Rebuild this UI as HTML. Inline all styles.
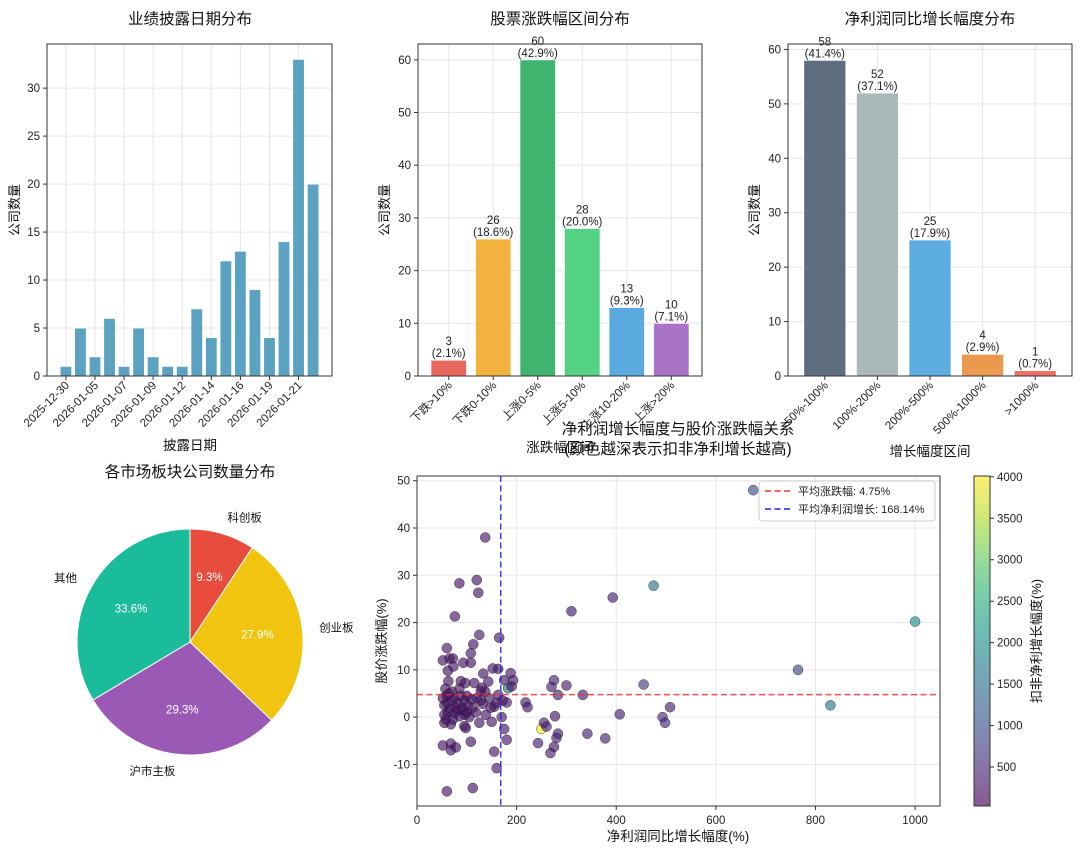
<!DOCTYPE html>
<html><head><meta charset="utf-8"><style>
body{margin:0;background:#fff;}
svg{display:block;font-family:"Liberation Sans","Noto Sans CJK SC",sans-serif;}
</style></head><body>
<svg id="s" width="1080" height="852" viewBox="0 0 1080 852">
<defs>
<linearGradient id="vir" x1="0" y1="1" x2="0" y2="0">
<stop offset="0" stop-color="#440154"/><stop offset="0.11" stop-color="#482878"/><stop offset="0.22" stop-color="#3e4989"/><stop offset="0.33" stop-color="#31688e"/><stop offset="0.44" stop-color="#26828e"/><stop offset="0.55" stop-color="#1f9e89"/><stop offset="0.66" stop-color="#35b779"/><stop offset="0.77" stop-color="#6ece58"/><stop offset="0.88" stop-color="#b5de2b"/><stop offset="1" stop-color="#fde725"/>
</linearGradient></defs>
</svg>
<script>
// ---- chart 1 data ----
const dateCats=["2025-12-30","2026-01-04","2026-01-05","2026-01-06","2026-01-07","2026-01-08","2026-01-09","2026-01-10","2026-01-12","2026-01-13","2026-01-14","2026-01-15","2026-01-16","2026-01-17","2026-01-19","2026-01-20","2026-01-21","2026-01-22"];
const dateCounts=[1,5,2,6,1,5,2,1,1,7,4,12,13,9,4,14,33,20];
const dateTicks=[0,5,10,15,20,25,30];
// ---- chart 2 data ----
const chgCats=["下跌>10%","下跌0-10%","上涨0-5%","上涨5-10%","上涨10-20%","上涨>20%"];
const chgCounts=[3,26,60,28,13,10];
const chgPcts=["2.1%","18.6%","42.9%","20.0%","9.3%","7.1%"];
const chgColors=["#e8695b","#f1b23e","#3fb46f","#52d282","#5aaae0","#a974c5"];
const chgTicks=[0,10,20,30,40,50,60];
// ---- chart 3 data ----
const grCats=["50%-100%","100%-200%","200%-500%","500%-1000%",">1000%"];
const grCounts=[58,52,25,4,1];
const grPcts=["41.4%","37.1%","17.9%","2.9%","0.7%"];
const grColors=["#5e6e7e","#abb8b8","#5eade2","#eb994f","#ec7064"];
const grTicks=[0,10,20,30,40,50,60];
// ---- pie data ----
const pieLabels=["科创板","创业板","沪市主板","其他"];
const pieValues=[9.3,27.9,29.3,33.6];
const pieColors=["#e74c3c","#f1c40f","#9b59b6","#1abc9c"];
// ---- scatter data ----
const scGrowth=[675,137,85,120,123,475,393,310,1000,76,125,165,60,113,108,52,65,72,93,108,73,152,163,62,133,188,193,175,63,88,97,115,275,300,455,765,270,183,57,130,70,137,163,283,333,100,60,75,120,145,180,218,222,508,830,132,155,55,65,80,90,100,112,118,138,170,277,407,493,498,250,255,260,283,280,342,378,243,175,180,55,68,95,98,125,150,108,68,78,52,68,155,275,268,160,60,112,55,60,62,70,75,82,85,88,92,95,102,105,110,58,78,85,52,64,96,72,128,143,148,160,172,128,190];
const scChange=[48,38,28.3,29,26.3,27.8,25.3,22.4,20.2,21.3,17.4,16.8,14.6,15.4,13.5,12,12.4,12.4,11.5,11.5,10.7,10.3,10.2,9.8,9.2,9.3,7.8,7.8,7.6,7.6,7.2,7.2,7.8,6.7,6.9,10,6.4,6.1,6,6.2,5.4,5.4,4.7,4.7,4.7,4.5,4.5,4,4,4,3.1,3.1,2.1,2.1,2.5,2.8,2.2,2.5,1.8,1.5,2,1,2,1,0.5,0,0.2,0.6,0,-1.2,-2.5,-1.2,-2,-3.5,-4.4,-3.5,-4.5,-5.5,-2.5,-4.8,-1.2,-1.5,-1.9,-2.3,-1.2,-1,-5.2,-5.6,-6.4,-6,-7,-7.3,-6.3,-7.6,-10.8,-15.7,-15,0.5,3,1,3.5,0.8,3,0.2,4.5,1.5,3.5,2.5,0,3.8,-0.5,2,6,4,5,0.5,-0.5,3.5,7.5,2,3,3.5,5.5,6.5];
const scDeduct=[1000,300,250,260,240,1500,400,350,2000,250,300,280,260,240,260,250,260,270,240,230,260,300,300,240,260,300,300,300,240,260,240,250,400,350,700,900,350,1500,240,260,240,260,250,400,400,240,240,250,250,260,300,350,300,400,1600,260,270,230,240,240,250,240,240,250,260,300,300,400,500,500,4000,400,400,400,400,400,400,350,300,300,230,240,240,240,250,260,240,240,240,230,240,260,350,350,300,260,240,230,230,230,230,230,240,240,240,240,240,240,240,240,230,240,240,230,240,240,240,250,260,260,260,260,250,260];
const avgChange=4.75, avgGrowth=168.14;
const cbTicks=[500,1000,1500,2000,2500,3000,3500,4000];

const S=document.getElementById('s');
const NS='http://www.w3.org/2000/svg';
function mk(tag,attrs,parent,text){const e=document.createElementNS(NS,tag);for(const k in attrs)e.setAttribute(k,attrs[k]);if(text!==undefined)e.textContent=text;(parent||S).appendChild(e);return e;}

function frame(g,x0,y0,x1,y1){const r=mk('rect',{x:x0,y:y0,width:x1-x0,height:y1-y0,fill:'none',stroke:'#333','stroke-width':1},g);}

function barChart(name,x0,x1,y0,y1,cats,vals,ymax,yticks,colors,opts){
  const g=mk('g',{},S);
  const n=cats.length, lo=opts.lo, hi=n-1+opts.hi;
  const X=i=>x0+(i-lo)/(hi-lo)*(x1-x0);
  const Y=v=>y1-v/ymax*(y1-y0);
  const bw=0.8*(x1-x0)/(hi-lo);
  // grid
  yticks.forEach(t=>{const l=mk('line',{x1:x0,x2:x1,y1:Y(t),y2:Y(t),stroke:'#e6e6e6'},g);
    const tl=mk('text',{x:x0-7,y:Y(t)+4,'text-anchor':'end','font-size':11.5,fill:'#222'},g,t);
    mk('line',{x1:x0-4,x2:x0,y1:Y(t),y2:Y(t),stroke:'#333'},g);});
  cats.forEach((c,i)=>{if(opts.every&&i%opts.every)return;const l=mk('line',{x1:X(i),x2:X(i),y1:y0,y2:y1,stroke:'#e6e6e6'},g);});
  vals.forEach((v,i)=>{
    const b=mk('rect',{x:X(i)-bw/2,y:Y(v),width:bw,height:y1-Y(v),fill:Array.isArray(colors)?colors[i]:colors,stroke:'#fff','stroke-width':0.8},g);
    
    if(opts.pcts){const t1=mk('text',{x:X(i),y:Y(v)-15,'text-anchor':'middle','font-size':11.5,fill:'#222'},g,v);
      const t2=mk('text',{x:X(i),y:Y(v)-3,'text-anchor':'middle','font-size':11.5,fill:'#222'},g,'('+opts.pcts[i]+')');}
  });
  cats.forEach((c,i)=>{if(opts.every&&i%opts.every)return;
    mk('line',{x1:X(i),x2:X(i),y1:y1,y2:y1+4,stroke:'#333'},g);
    const t=mk('text',{x:X(i)+4,y:y1+10,'text-anchor':'end','font-size':11.5,fill:'#222',transform:`rotate(-45 ${X(i)+4} ${y1+10})`},g,c);
    });
  frame(g,x0,y0,x1,y1);
}

function title(x,y,t,name,size){const e=mk('text',{x:x,y:y,'text-anchor':'middle','font-size':size||15.5,fill:'#111'},S,t);return e;}
function ylab(x,y,t,name){const e=mk('text',{x:x,y:y,'text-anchor':'middle','font-size':13,fill:'#111',transform:`rotate(-90 ${x} ${y})`},S,t);}

// chart 1
barChart('disclosure-date-chart',47,332,44,376,dateCats,dateCounts,34.6,dateTicks,'#5aa2bf',{lo:-1.3,hi:1.3,every:2});
title(190,24,'业绩披露日期分布','chart1-title');
title(190,450,'披露日期','chart1-x-axis-title',13.5);
ylab(19,210,'公司数量','chart1-y-axis-title');
// chart 2
barChart('price-change-chart',418,702,44,376,chgCats,chgCounts,63,chgTicks,chgColors,{lo:-0.69,hi:0.69,pcts:chgPcts});
title(560,24,'股票涨跌幅区间分布','chart2-title');
title(560,452,'涨跌幅区间','chart2-x-axis-title',13.5);
ylab(389,210,'公司数量','chart2-y-axis-title');
// chart 3
barChart('profit-growth-chart',788,1072,44,376,grCats,grCounts,61,grTicks,grColors,{lo:-0.7,hi:0.7,pcts:grPcts});
title(930,24,'净利润同比增长幅度分布','chart3-title');
title(930,456,'增长幅度区间','chart3-x-axis-title',13.5);
ylab(759,210,'公司数量','chart3-y-axis-title');

// pie
(function(){
  const g=mk('g',{},S);
  const cx=190,cy=642,r=113;const tot=pieValues.reduce((a,b)=>a+b,0);
  let a=90;
  pieValues.forEach((v,i)=>{
    const sw=v/tot*360;const a0=a*Math.PI/180,a1=(a-sw)*Math.PI/180;
    const p=`M${cx},${cy} L${cx+r*Math.cos(a0)},${cy-r*Math.sin(a0)} A${r},${r} 0 ${sw>180?1:0} 1 ${cx+r*Math.cos(a1)},${cy-r*Math.sin(a1)} Z`;
    const s=mk('path',{d:p,fill:pieColors[i],stroke:'#fff','stroke-width':1},g);
    const am=(a-sw/2)*Math.PI/180;
    const lt=mk('text',{x:cx+1.15*r*Math.cos(am),y:cy-1.15*r*Math.sin(am)+4,'text-anchor':Math.cos(am)>0.1?'start':(Math.cos(am)<-0.1?'end':'middle'),'font-size':11.5,fill:'#111'},g,pieLabels[i]);
    
    const pt=mk('text',{x:cx+0.6*r*Math.cos(am),y:cy-0.6*r*Math.sin(am)+4,'text-anchor':'middle','font-size':11.5,fill:'#fff'},g,v.toFixed(1)+'%');
    
    a-=sw;
  });
})();
title(190,477,'各市场板块公司数量分布','pie-title');

// scatter
(function(){
  const g=mk('g',{},S);
  const x0=417,x1=940,y0=476,y1=806,xmin=0,xmax=1050,ymin=-18.8,ymax=51;
  const X=v=>x0+(v-xmin)/(xmax-xmin)*(x1-x0);const Y=v=>y1-(v-ymin)/(ymax-ymin)*(y1-y0);
  const vir=['#440154','#482878','#3e4989','#31688e','#26828e','#1f9e89','#35b779','#6ece58','#b5de2b','#fde725'];
  const cmin=30,cmax=4010;
  function col(v){let t=Math.max(0,Math.min(1,(v-cmin)/(cmax-cmin)))*9;const i=Math.min(8,Math.floor(t)),f=t-i;
    const h=s=>[1,3,5].map(k=>parseInt(s.substr(k,2),16));const A=h(vir[i]),B=h(vir[i+1]);
    return 'rgb('+A.map((c,k)=>Math.round(c+(B[k]-c)*f)).join(',')+')';}
  [0,200,400,600,800,1000].forEach(t=>{mk('line',{x1:X(t),x2:X(t),y1:y0,y2:y1,stroke:'#e8e8e8'},g);mk('line',{x1:X(t),x2:X(t),y1:y1,y2:y1+4,stroke:'#333'},g);
    const e=mk('text',{x:X(t),y:y1+18,'text-anchor':'middle','font-size':11.5,fill:'#222'},g,t);});
  [-10,0,10,20,30,40,50].forEach(t=>{mk('line',{x1:x0,x2:x1,y1:Y(t),y2:Y(t),stroke:'#e8e8e8'},g);mk('line',{x1:x0-4,x2:x0,y1:Y(t),y2:Y(t),stroke:'#333'},g);
    const e=mk('text',{x:x0-7,y:Y(t)+4,'text-anchor':'end','font-size':11.5,fill:'#222'},g,t);});
  scGrowth.forEach((gx,i)=>{const c=mk('circle',{cx:X(gx),cy:Y(scChange[i]),r:5,fill:col(scDeduct[i]),'fill-opacity':0.65,stroke:'#222','stroke-width':0.5,'stroke-opacity':0.8},g);
    });
  const h=mk('line',{x1:x0,x2:x1,y1:Y(avgChange),y2:Y(avgChange),stroke:'#e83030','stroke-width':1.5,'stroke-dasharray':'6,3.5','stroke-opacity':0.85},g);
  const v=mk('line',{x1:X(avgGrowth),x2:X(avgGrowth),y1:y0,y2:y1,stroke:'#2020e0','stroke-width':1.5,'stroke-dasharray':'6,3.5','stroke-opacity':0.85},g);
  frame(g,x0,y0,x1,y1);
  // legend
  const lg=mk('g',{},g);
  mk('rect',{x:759,y:481,width:176,height:40,fill:'#fff','fill-opacity':0.85,stroke:'#ccc',rx:3},lg);
  mk('line',{x1:765,x2:790,y1:491,y2:491,stroke:'#e83030','stroke-width':1.5,'stroke-dasharray':'6,3.5'},lg);
  const l1=mk('text',{x:798,y:495,'font-size':11,fill:'#222'},lg,'平均涨跌幅: 4.75%');
  mk('line',{x1:765,x2:790,y1:509,y2:509,stroke:'#2020e0','stroke-width':1.5,'stroke-dasharray':'6,3.5'},lg);
  const l2=mk('text',{x:798,y:513,'font-size':11,fill:'#222'},lg,'平均净利润增长: 168.14%');
  // colorbar
  const cy0=476,cy1=806;const CY=v=>cy1-(v-cmin)/(cmax-cmin)*(cy1-cy0);
  const cb=mk('rect',{x:974,y:cy0,width:16,height:cy1-cy0,fill:'url(#vir)','fill-opacity':0.65,stroke:'#333'},S);
  cbTicks.forEach(t=>{mk('line',{x1:990,x2:994,y1:CY(t),y2:CY(t),stroke:'#333'},S);
    const e=mk('text',{x:997,y:CY(t)+4,'font-size':11.5,fill:'#222'},S,t);});
})();
title(678,434,'净利润增长幅度与股价涨跌幅关系','scatter-title');
title(678,454,'(颜色越深表示扣非净利增长越高)','scatter-subtitle');
title(678,841,'净利润同比增长幅度(%)','scatter-x-axis-title',13.5);
ylab(386,641,'股价涨跌幅(%)','scatter-y-axis-title');
ylab(1041,641,'扣非净利增长幅度(%)','colorbar-title');
</script>
</body></html>
